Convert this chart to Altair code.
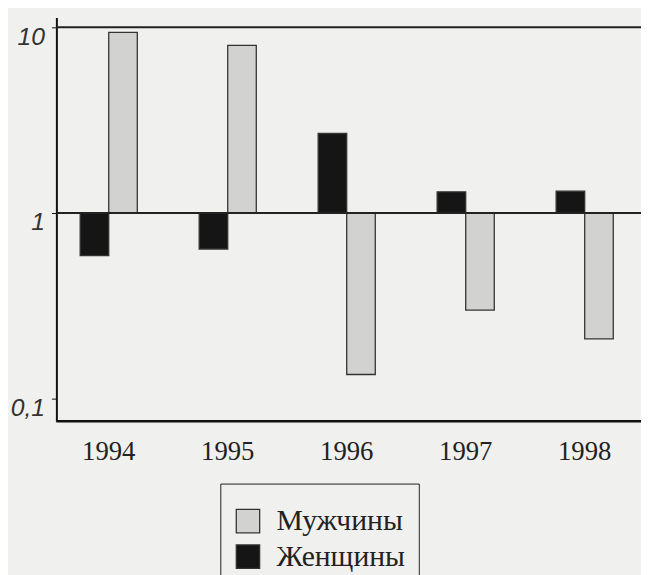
import altair as alt
import pandas as pd

years = ["1994", "1995", "1996", "1997", "1998"]
men = [9.4, 8.0, 0.135, 0.30, 0.21]
women = [0.59, 0.64, 2.68, 1.30, 1.31]
series = ["Мужчины", "Женщины"]
y_ticks = [0.1, 1, 10]

rows = []
for i, yr in enumerate(years):
    rows.append({"year": yr, "sex": "Женщины", "value": women[i]})
    rows.append({"year": yr, "sex": "Мужчины", "value": men[i]})
df = pd.DataFrame(rows)

W = 588
H = 409
BG = "#f0f0ee"

base = alt.Chart(df)

bars = base.mark_bar(strokeWidth=1.3).encode(
    x=alt.X("year:N", title=None,
            scale=alt.Scale(paddingInner=0.52, paddingOuter=0.2),
            axis=alt.Axis(labelAngle=0, domain=False, ticks=False,
                          labelFont="Liberation Serif", labelFontSize=27,
                          labelColor="#222", labelPadding=18)),
    xOffset=alt.XOffset("sex:N", scale=alt.Scale(domain=["Женщины", "Мужчины"])),
    y=alt.Y("value:Q", title=None,
            scale=alt.Scale(type="log", domain=[0.0755, 11.3], nice=False),
            axis=alt.Axis(values=y_ticks, grid=False,
                          labelExpr="datum.value < 0.5 ? '0,1' : (datum.value < 5 ? '1' : '10')",
                          labelFont="Liberation Sans", labelFontStyle="italic",
                          labelFontSize=25, labelColor="#333", labelOffset=9,
                          labelPadding=7, tickSize=5, tickColor="#111",
                          domainColor="#111", domainWidth=2)),
    y2=alt.datum(1),
    color=alt.Color("sex:N",
                    scale=alt.Scale(domain=series, range=["#d2d2d0", "#151515"]),
                    legend=alt.Legend(orient="none", legendX=166, legendY=472,
                                      title=" ", titleFontSize=8, titlePadding=2,
                                      direction="vertical", symbolType="square",
                                      symbolSize=560, symbolStrokeColor="#333",
                                      symbolStrokeWidth=1.3,
                                      labelExpr="datum.label + '\u00a0\u00a0\u00a0\u00a0'",
                                      labelFont="Liberation Serif", labelFontSize=30,
                                      labelColor="#222", labelOffset=14,
                                      rowPadding=6, padding=13,
                                      strokeColor="#222", fillColor=BG)),
    stroke=alt.value("#333"),
)

line_one = alt.Chart().mark_rule(color="#222", strokeWidth=2).encode(
    y=alt.datum(1), x=alt.value(0), x2=alt.value(600))
line_ten = alt.Chart().mark_rule(color="#222", strokeWidth=2).encode(
    y=alt.datum(10), x=alt.value(0), x2=alt.value(600))
line_bottom = alt.Chart().mark_rule(color="#111", strokeWidth=2.5).encode(
    y=alt.value(H), x=alt.value(0), x2=alt.value(600))

chart = alt.layer(bars, line_one, line_ten, line_bottom).properties(
    width=W, height=H,
    background=BG,
    padding={"left": 49, "top": 6, "right": 4, "bottom": 152},
    autosize=alt.AutoSizeParams(type="none"),
).configure_view(stroke=None)

chart.save("out.html", embed_options={"renderer": "svg", "actions": False})
